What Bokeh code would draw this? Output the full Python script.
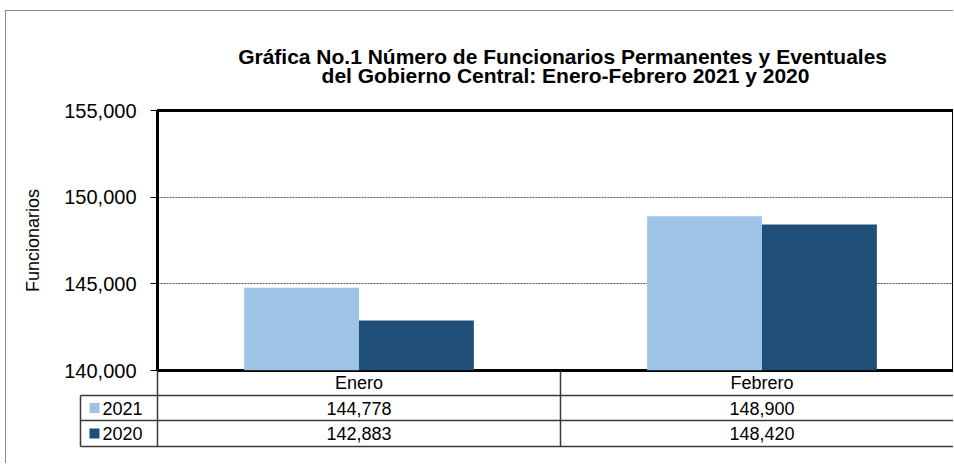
from bokeh.plotting import figure
from bokeh.models import Range1d, FixedTicker, NumeralTickFormatter, ColumnDataSource
from bokeh.embed import file_html
from bokeh.resources import INLINE
from bokeh.core.properties import value

# ---------------- data ----------------
months = ["Enero", "Febrero"]
series_names = ["2021", "2020"]
v2021 = [144778, 148900]
v2020 = [142883, 148420]
y_ticks = [140000, 145000, 150000, 155000]
title_lines = [
    "Gráfica No.1 Número de Funcionarios  Permanentes y Eventuales",
    "del Gobierno Central: Enero-Febrero 2021 y 2020",
]
y_label = "Funcionarios"

# ---------------- style / layout ----------------
C2021 = "#9dc3e6"
C2020 = "#1f4e79"
FONT = "Liberation Sans"
LINE = "#3a3a3a"
BORDER = "1px solid #8c8c8c"

PAGE_X0 = 6          # page x of figures' left edge (5px margin + 1px border)
PAGE_Y0 = 11         # page y of the top (10px margin + 1px border)
W = 948
FRAME_LEFT = 157     # page x of the chart frame's left edge
FRAME_TOP = 111
FRAME_BOTTOM = 371
CAT_PX = 403         # width of one category in px
X_START = (PAGE_X0 - FRAME_LEFT) / CAT_PX
X_END = (PAGE_X0 + W - FRAME_LEFT) / CAT_PX
BAR_W = 0.285
OVERLAP = 12
TITLE_H = 82


def px(page_x):
    return (page_x - FRAME_LEFT) / CAT_PX


def bare(fig):
    fig.outline_line_color = None
    fig.background_fill_alpha = 0
    fig.border_fill_alpha = 0
    for g in fig.grid:
        g.visible = False


# ---------------- title block ----------------
ttl = figure(
    width=W, height=TITLE_H, output_backend="svg", toolbar_location=None,
    x_range=Range1d(X_START, X_END), y_range=Range1d(TITLE_H, 0),
    x_axis_location=None, y_axis_location=None,
    min_border_left=0, min_border_right=0, min_border_top=0, min_border_bottom=0,
    styles={"margin-left": "5px", "margin-top": "10px",
            "border-left": BORDER, "border-top": BORDER},
)
bare(ttl)
ttl.text(x=[px(565)] * 2, y=[56 - PAGE_Y0, 75 - PAGE_Y0], text=title_lines,
         text_font=value(FONT), text_font_style="bold", text_font_size=value("21px"),
         text_align="center", text_baseline="middle", text_color="black")

# ---------------- chart ----------------
chart_top = PAGE_Y0 + TITLE_H
top_b = FRAME_TOP - chart_top
chart_h = top_b + (FRAME_BOTTOM - FRAME_TOP) + OVERLAP
chart = figure(
    width=W, height=chart_h, output_backend="svg", toolbar_location=None,
    x_range=Range1d(0, X_END), y_range=Range1d(y_ticks[0], y_ticks[-1]),
    x_axis_location=None,
    min_border_left=FRAME_LEFT - PAGE_X0, min_border_right=0,
    min_border_top=top_b, min_border_bottom=OVERLAP,
    styles={"margin-left": "5px", "border-left": BORDER},
)
chart.outline_line_color = "black"
chart.outline_line_width = 3
chart.background_fill_color = "white"
chart.border_fill_alpha = 0

n = len(months)
src = ColumnDataSource(dict(
    x21=[i + 0.5 - BAR_W / 2 for i in range(n)],
    x20=[i + 0.5 + BAR_W / 2 for i in range(n)],
    v21=v2021, v20=v2020,
))
chart.vbar(x="x21", top="v21", bottom=y_ticks[0], width=BAR_W, source=src,
           fill_color=C2021, line_color=None)
chart.vbar(x="x20", top="v20", bottom=y_ticks[0], width=BAR_W, source=src,
           fill_color=C2020, line_color=None)

ax = chart.yaxis[0]
ax.ticker = FixedTicker(ticks=y_ticks)
ax.formatter = NumeralTickFormatter(format="0,0")
ax.axis_line_color = "black"
ax.axis_line_width = 3
ax.major_tick_out = 7
ax.major_tick_in = 0
ax.major_tick_line_color = "black"
ax.minor_tick_line_color = None
ax.major_label_standoff = 14
ax.major_label_text_font = FONT
ax.major_label_text_font_size = "20px"
ax.major_label_text_color = "black"
ax.axis_label = y_label
ax.axis_label_text_font = FONT
ax.axis_label_text_font_size = "18px"
ax.axis_label_text_font_style = "normal"
ax.axis_label_text_color = "black"
ax.axis_label_standoff = 18

chart.ygrid.ticker = FixedTicker(ticks=y_ticks)
chart.ygrid.grid_line_color = "#555555"
chart.ygrid.grid_line_dash = "2 1"
chart.ygrid.grid_line_width = 1
chart.xgrid.visible = False

# ---------------- data table (overlapping the chart's bottom border) ----------------
tab_h = 93
TL = 78  # page x of the table frame left
tab = figure(
    width=W, height=tab_h, output_backend="svg", toolbar_location=None,
    x_range=Range1d(px(TL), X_END), y_range=Range1d(tab_h, 0),
    x_axis_location=None, y_axis_location=None,
    min_border_left=TL - PAGE_X0, min_border_right=0, min_border_top=0, min_border_bottom=0,
    styles={"margin-left": "5px", "margin-top": f"-{OVERLAP}px", "border-left": BORDER},
)
bare(tab)

# rows (px from table top = page y 371)
y_head, y_r1, y_r2 = 12.5, 37.5, 63
y_l1, y_l2, y_l3 = 25, 50, 76
leg_left = px(80)

tab.segment(x0=[0, 1, leg_left, leg_left, leg_left, leg_left],
            y0=[0, 0, y_l1, y_l1, y_l2, y_l3],
            x1=[0, 1, leg_left, X_END, X_END, X_END],
            y1=[y_l3, y_l3, y_l3, y_l1, y_l2, y_l3],
            line_color=LINE, line_width=1.5)

centers = [i + 0.5 for i in range(n)]
tab.text(x=centers, y=[y_head] * n, text=months,
         text_font=value(FONT), text_font_size=value("18px"),
         text_align="center", text_baseline="middle", text_color="black")
tab.text(x=centers, y=[y_r1] * n, text=[f"{v:,}" for v in v2021],
         text_font=value(FONT), text_font_size=value("18px"),
         text_align="center", text_baseline="middle", text_color="black")
tab.text(x=centers, y=[y_r2] * n, text=[f"{v:,}" for v in v2020],
         text_font=value(FONT), text_font_size=value("18px"),
         text_align="center", text_baseline="middle", text_color="black")

# legend keys
tab.scatter(x=[px(94)] * 2, y=[y_r1, y_r2], marker="square", size=10,
            fill_color=[C2021, C2020], line_color=None)
tab.text(x=[px(102)] * 2, y=[y_r1, y_r2], text=series_names,
         text_font=value(FONT), text_font_size=value("18px"),
         text_align="left", text_baseline="middle", text_color="black")

open("out.html", "w").write(file_html([ttl, chart, tab], INLINE))
